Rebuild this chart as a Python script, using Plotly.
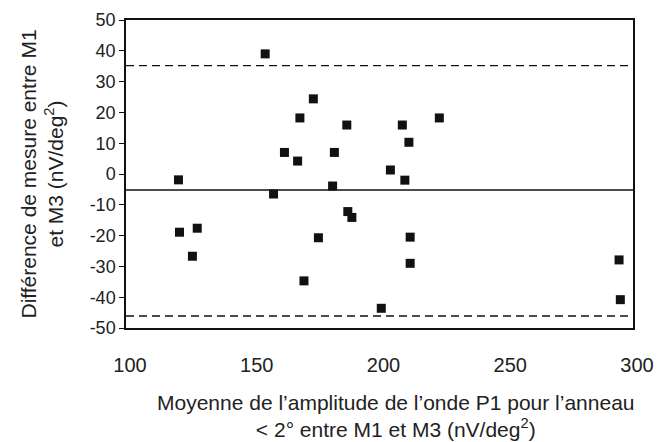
import plotly.graph_objects as go

# Bland-Altman data: mean amplitude (x) vs difference (y)
mean_amp = [120.7, 154.9, 158.2, 162.5, 167.7, 168.6, 173.9, 182.2, 181.5, 187.1,
            209.0, 211.6, 223.6, 204.3, 210.0, 187.5, 189.1, 121.1, 128.1, 126.2,
            175.9, 170.2, 212.1, 212.1, 200.7, 294.5, 295.0]
diff = [-1.9, 39.0, -6.5, 7.0, 4.2, 18.2, 24.4, 7.0, -3.9, 15.9,
        15.9, 10.3, 18.2, 1.3, -2.0, -12.2, -14.1, -18.9, -17.6, -26.7,
        -20.7, -34.7, -20.5, -29.0, -43.6, -27.9, -40.8]

mean_diff = -5.2
upper_loa = 35.2
lower_loa = -46.1

x_range = [100, 300]
y_range = [-50, 50]
x_ticks = [100, 150, 200, 250, 300]
y_ticks = [50, 40, 30, 20, 10, 0, -10, -20, -30, -40, -50]

x_title = "Moyenne de l’amplitude de l’onde P1 pour l’anneau<br>&lt; 2° entre M1 et M3 (nV/deg<sup>2</sup>)"
y_title = "Différence de mesure entre M1<br>et M3 (nV/deg<sup>2</sup>)"

FONT = "Arial, Liberation Sans, sans-serif"

fig = go.Figure()

fig.add_trace(go.Scatter(
    x=mean_amp, y=diff, mode="markers",
    marker=dict(symbol="square", size=9, color="#111111"),
    showlegend=False, hoverinfo="x+y"))

for val, dash in [(mean_diff, "solid"), (upper_loa, "8px,5px"), (lower_loa, "8px,5px")]:
    fig.add_trace(go.Scatter(
        x=x_range, y=[val, val], mode="lines",
        line=dict(color="#111111", width=1.3, dash=dash),
        showlegend=False, hoverinfo="skip", cliponaxis=False))

fig.update_layout(
    width=670, height=442,
    margin=dict(l=126, r=37, t=20, b=114),
    paper_bgcolor="white", plot_bgcolor="white",
    font=dict(family=FONT, color="#222222"),
    annotations=[dict(
        text=x_title, xref="paper", yref="paper", x=0.532, y=-0.197,
        xanchor="center", yanchor="top", showarrow=False, align="center",
        font=dict(size=21, family=FONT, color="#222222"))],
)

fig.update_xaxes(
    range=x_range, tickvals=x_ticks, ticktext=[str(v) for v in x_ticks],
    showgrid=False, zeroline=False, automargin=False,
    showline=True, linecolor="#111111", linewidth=1.5, mirror=True,
    ticks="", tickfont=dict(size=20, family=FONT, color="#222222"),
    ticklabelstandoff=18, ticklabelshift=4,
)

fig.update_yaxes(
    range=y_range, tickvals=y_ticks, ticktext=[str(v) for v in y_ticks],
    showgrid=False, zeroline=False, automargin=False,
    showline=True, linecolor="#111111", linewidth=1.5, mirror=True,
    ticks="outside", ticklen=5, tickcolor="#111111", tickwidth=1.3,
    tickfont=dict(size=18, family=FONT, color="#222222"),
    title=dict(text=y_title, font=dict(size=21, family=FONT, color="#222222"), standoff=20),
)

fig.write_html("out.html")
